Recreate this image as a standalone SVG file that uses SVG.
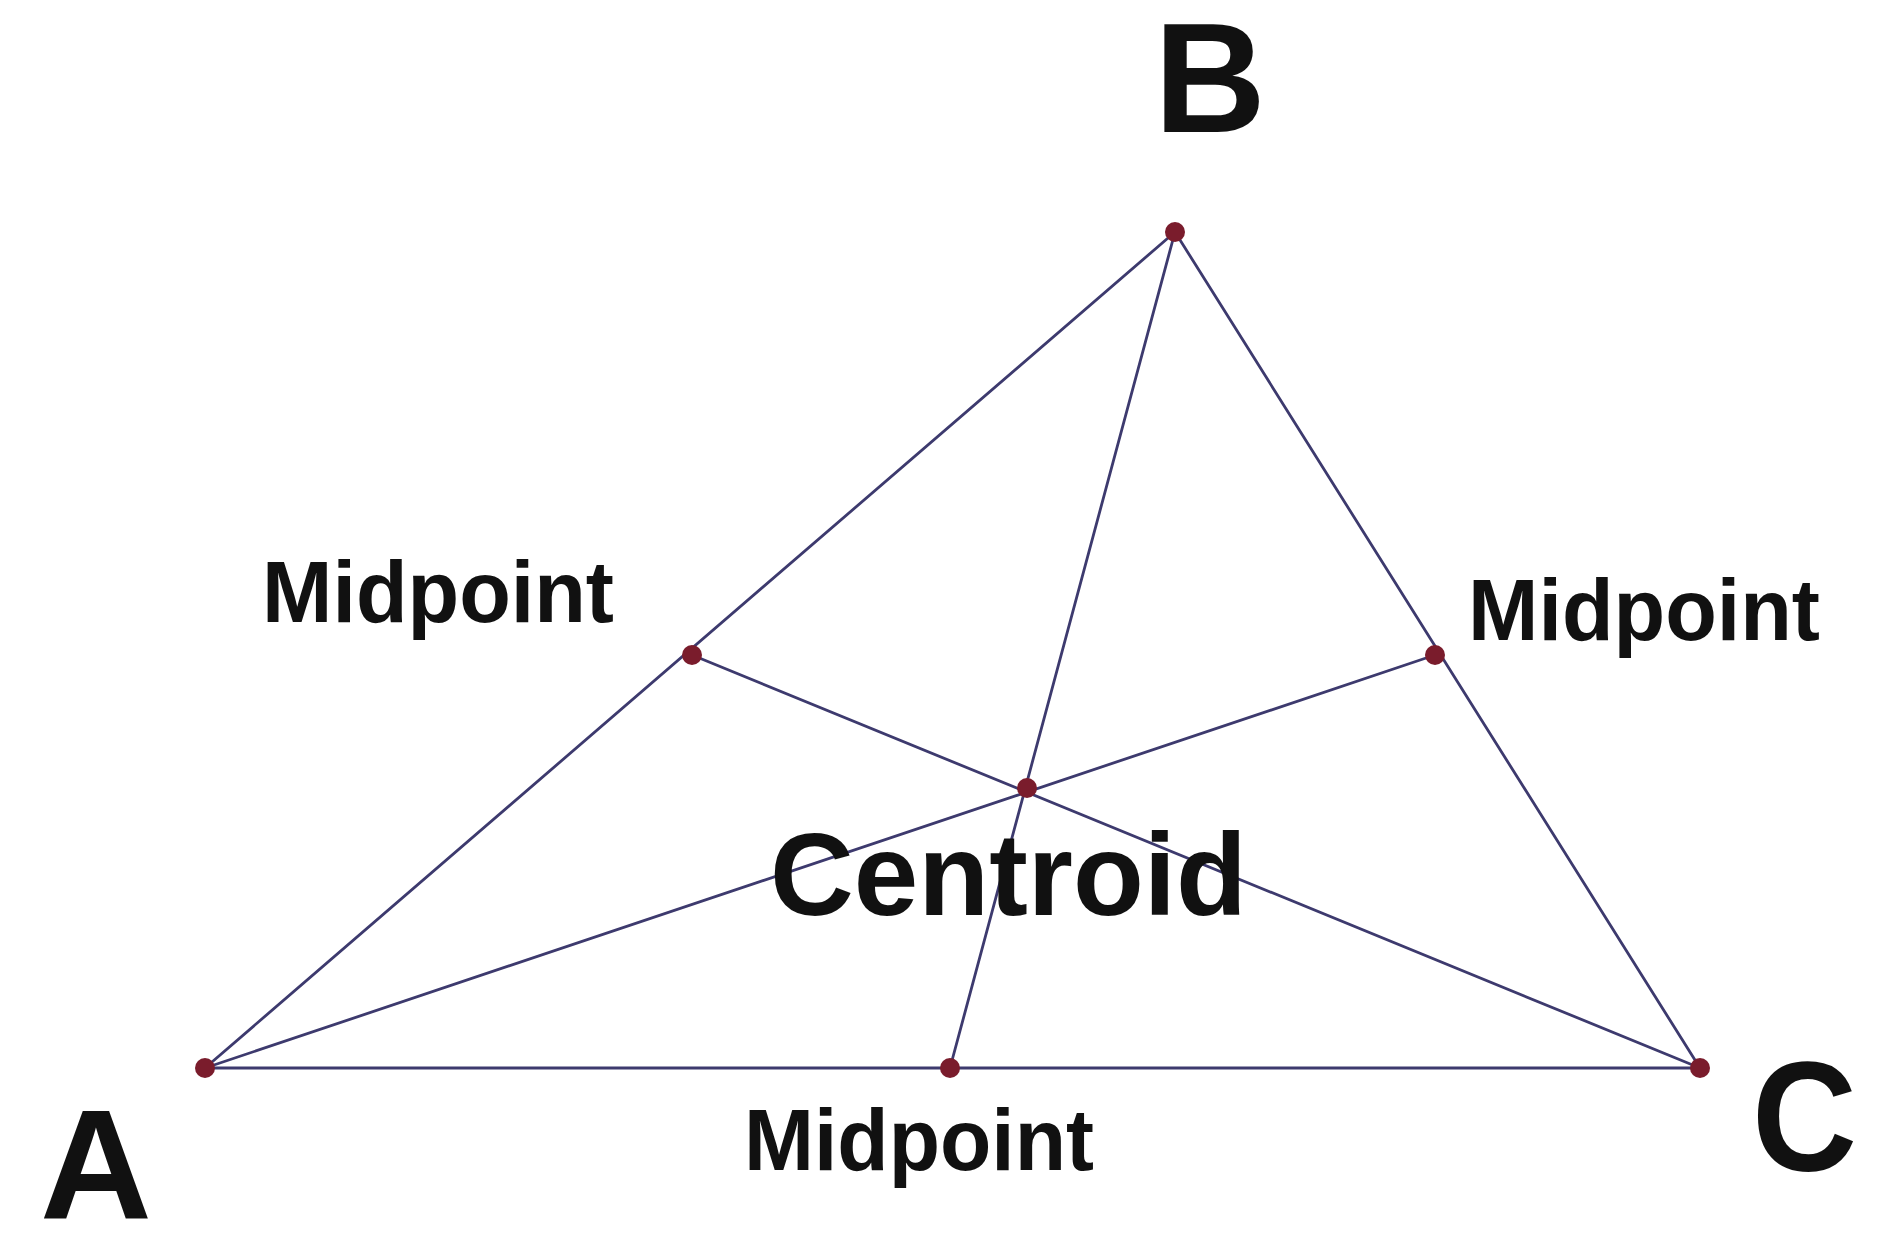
<svg xmlns="http://www.w3.org/2000/svg" width="1895" height="1233" viewBox="0 0 1895 1233">
<style>
.edge{stroke:#3d3a6e;stroke-width:2.8;fill:none;stroke-linecap:round}
.dot{fill:#7a1c2c}
.lbl{font-family:"Liberation Sans",Arial,sans-serif;font-weight:bold;fill:#111}
.vtx{font-size:155px}
.mid{font-size:87px}
.cen{font-size:116px}
</style>
<rect width="1895" height="1233" fill="#ffffff"/>
<g id="connectors">
<line class="edge" x1="205" y1="1068" x2="1175" y2="232"/>
<line class="edge" x1="1175" y1="232" x2="1700" y2="1068"/>
<line class="edge" x1="205" y1="1068" x2="1700" y2="1068"/>
<line class="edge" x1="1175" y1="232" x2="950" y2="1068"/>
<line class="edge" x1="205" y1="1068" x2="1435" y2="655"/>
<line class="edge" x1="692" y1="655" x2="1700" y2="1068"/>
</g>
<g id="A"><circle class="dot" cx="205" cy="1068" r="10"/><text class="lbl vtx" x="40" y="1218">A</text></g>
<g id="B"><circle class="dot" cx="1175" cy="232" r="10"/><text class="lbl vtx" x="1154" y="132">B</text></g>
<g id="C"><circle class="dot" cx="1700" cy="1068" r="10"/><text class="lbl vtx" x="1752" y="1170" textLength="105" lengthAdjust="spacingAndGlyphs">C</text></g>
<g id="midAB"><circle class="dot" cx="692" cy="655" r="10"/><text class="lbl mid" x="262" y="622" textLength="352" lengthAdjust="spacingAndGlyphs">Midpoint</text></g>
<g id="midBC"><circle class="dot" cx="1435" cy="655" r="10"/><text class="lbl mid" x="1468" y="640" textLength="352" lengthAdjust="spacingAndGlyphs">Midpoint</text></g>
<g id="midAC"><circle class="dot" cx="950" cy="1068" r="10"/><text class="lbl mid" x="744" y="1170" textLength="350" lengthAdjust="spacingAndGlyphs">Midpoint</text></g>
<g id="centroid"><circle class="dot" cx="1027" cy="788" r="10"/><text class="lbl cen" x="770" y="915">Centroid</text></g>
</svg>
